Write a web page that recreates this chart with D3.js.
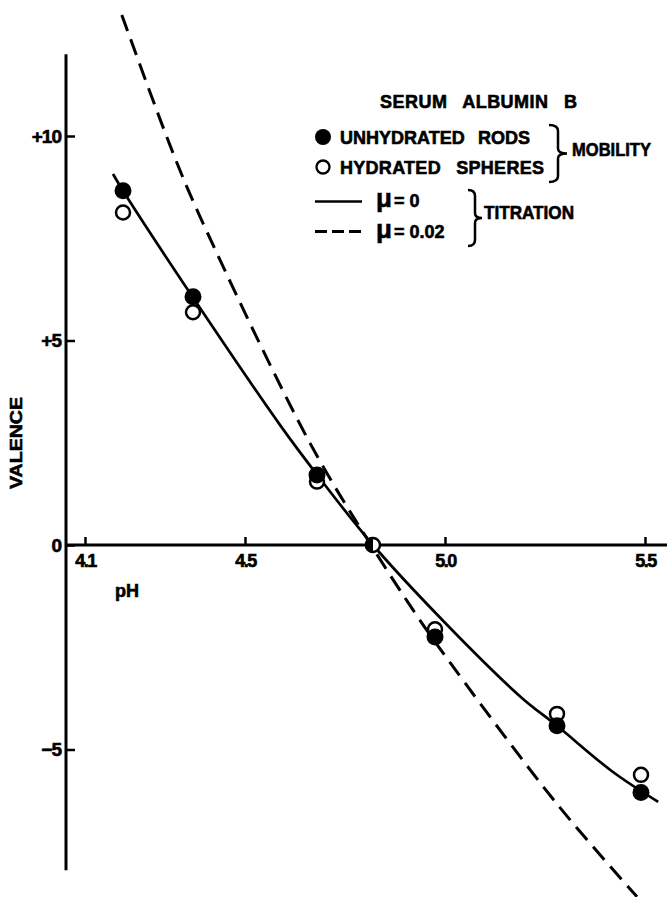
<!DOCTYPE html>
<html>
<head>
<meta charset="utf-8">
<script src="https://cdnjs.cloudflare.com/ajax/libs/d3/7.8.5/d3.min.js"></script>
<style>
  body { margin: 0; background: #fff; }
  text { font-family: "Liberation Sans", Arial, sans-serif; font-weight: bold; fill: #000; stroke: #000; stroke-width: 0.6px; }
</style>
</head>
<body>
<div id="chart"></div>
<script>
// pH at which the mobilities were measured
var pH = [4.195, 4.37, 4.68, 4.82, 4.975, 5.28, 5.49];
// valence from mobility
var unhydratedRods = [8.66, 6.07, 1.71, 0, -2.25, -4.42, -6.05];
var hydratedSpheres = [8.13, 5.69, 1.55, 0, -2.06, -4.13, -5.62];

// titration curves
var titrationPH0 = [4.17, 4.195, 4.37, 4.59, 4.68, 4.82, 5.0, 5.19, 5.28, 5.42, 5.533];
var titrationVal0 = [9.07, 8.66, 6.05, 2.9, 1.72, 0, -1.9, -3.72, -4.42, -5.55, -6.28];
var titrationPH002 = [4.192, 4.317, 4.3875, 4.6625, 4.815, 4.925, 4.99, 5.279, 5.48];
var titrationVal002 = [12.96, 9.66, 8.03, 2.49, 0, -1.66, -2.57, -6.32, -8.6];

var xTicks = [4.1, 4.5, 5.0, 5.5];
var yTicks = [10, 5, 0, -5];
var yTickLabels = ["+10", "+5", "0", "\u22125"];

var width = 667, height = 897;

var x = d3.scaleLinear().domain([4.1, 5.5]).range([85, 645]);
var y = d3.scaleLinear().domain([-5, 10]).range([749.5, 136]);

var svg = d3.select("#chart")
  .append("svg")
  .attr("width", width)
  .attr("height", height)
  .style("background", "#fff");

// axis lines (drawn by hand, they run past the tick range)
svg.append("line")
  .attr("x1", x(4.0525)).attr("x2", x(4.0525))
  .attr("y1", y(12)).attr("y2", y(-7.95))
  .attr("stroke", "#000").attr("stroke-width", 3);

svg.append("line")
  .attr("x1", x(4.0525)).attr("x2", width)
  .attr("y1", y(0)).attr("y2", y(0))
  .attr("stroke", "#000").attr("stroke-width", 3);

// x ticks point up, labels below
var xAxis = d3.axisBottom(x)
  .tickValues(xTicks)
  .tickSize(-8)
  .tickPadding(9)
  .tickFormat(d3.format(".1f"));

var gx = svg.append("g")
  .attr("transform", "translate(0," + y(0) + ")")
  .call(xAxis);
gx.select(".domain").remove();
gx.selectAll(".tick line").attr("stroke", "#000").attr("stroke-width", 2.5);
gx.selectAll(".tick text")
  .attr("font-family", "Liberation Sans, Arial, sans-serif")
  .attr("font-weight", "bold")
  .attr("font-size", 18)
  .attr("letter-spacing", -1.5)
  .attr("fill", "#000");

// y ticks point right, labels on the left
var yAxis = d3.axisLeft(y)
  .tickValues(yTicks)
  .tickSize(-9)
  .tickPadding(5)
  .tickFormat(function (d, i) { return yTickLabels[i]; });

var gy = svg.append("g")
  .attr("transform", "translate(" + x(4.0525) + ",0)")
  .call(yAxis);
gy.select(".domain").remove();
gy.selectAll(".tick line").attr("stroke", "#000").attr("stroke-width", 2.5);
gy.selectAll(".tick text")
  .attr("font-family", "Liberation Sans, Arial, sans-serif")
  .attr("font-weight", "bold")
  .attr("font-size", 19)
  .attr("letter-spacing", -1)
  .attr("fill", "#000");

// axis titles
svg.append("text")
  .attr("x", 127).attr("y", 597)
  .attr("text-anchor", "middle")
  .attr("font-size", 18)
  .text("pH");

svg.append("text")
  .attr("transform", "translate(22,443) rotate(-90)")
  .attr("text-anchor", "middle")
  .attr("font-size", 17)
  .attr("textLength", 92).attr("lengthAdjust", "spacingAndGlyphs")
  .text("VALENCE");

// titration curves
var line = d3.line()
  .x(function (d) { return x(d[0]); })
  .y(function (d) { return y(d[1]); })
  .curve(d3.curveCatmullRom.alpha(0.5));

var solidData = titrationPH0.map(function (p, i) { return [p, titrationVal0[i]]; });
var dashData = titrationPH002.map(function (p, i) { return [p, titrationVal002[i]]; });

svg.append("path")
  .datum(dashData)
  .attr("d", line)
  .attr("fill", "none")
  .attr("stroke", "#000")
  .attr("stroke-width", 3)
  .attr("stroke-dasharray", "17,9");

svg.append("path")
  .datum(solidData)
  .attr("d", line)
  .attr("fill", "none")
  .attr("stroke", "#000")
  .attr("stroke-width", 2.7);

// mobility points: open first, filled on top
var openPts = pH.map(function (p, i) { return [p, hydratedSpheres[i]]; });
var filledPts = pH.map(function (p, i) { return [p, unhydratedRods[i], hydratedSpheres[i]]; });

svg.selectAll(".open")
  .data(openPts)
  .enter().append("circle")
  .attr("class", "open")
  .attr("cx", function (d) { return x(d[0]); })
  .attr("cy", function (d) { return y(d[1]); })
  .attr("r", 7)
  .attr("fill", "#fff")
  .attr("stroke", "#000")
  .attr("stroke-width", 2.5);

var halfDisc = d3.arc().innerRadius(0).outerRadius(8.3).startAngle(Math.PI).endAngle(2 * Math.PI);

svg.selectAll(".filled")
  .data(filledPts)
  .enter().append("path")
  .attr("class", "filled")
  .attr("transform", function (d) { return "translate(" + x(d[0]) + "," + y(d[1]) + ")"; })
  .attr("d", function (d) {
    // where both points coincide only the left half is filled
    if (d[1] === d[2]) return halfDisc();
    return d3.arc().innerRadius(0).outerRadius(8.5).startAngle(0).endAngle(2 * Math.PI)();
  })
  .attr("fill", "#000");

// legend
var legend = svg.append("g");

legend.append("text").attr("x", 380).attr("y", 108)
  .attr("font-size", 18).attr("word-spacing", 10)
  .attr("textLength", 197).attr("lengthAdjust", "spacing")
  .text("SERUM ALBUMIN B");

legend.append("circle").attr("cx", 323).attr("cy", 137).attr("r", 8).attr("fill", "#000");
legend.append("text").attr("x", 340).attr("y", 143.5)
  .attr("font-size", 18).attr("word-spacing", 8)
  .attr("textLength", 190).attr("lengthAdjust", "spacing")
  .text("UNHYDRATED RODS");

legend.append("circle").attr("cx", 323).attr("cy", 167).attr("r", 6.5)
  .attr("fill", "#fff").attr("stroke", "#000").attr("stroke-width", 2.3);
legend.append("text").attr("x", 340).attr("y", 173.5)
  .attr("font-size", 18).attr("word-spacing", 10)
  .attr("textLength", 204).attr("lengthAdjust", "spacing")
  .text("HYDRATED SPHERES");

legend.append("line").attr("x1", 315).attr("x2", 362).attr("y1", 201.5).attr("y2", 201.5)
  .attr("stroke", "#000").attr("stroke-width", 2.7);
legend.append("line").attr("x1", 315).attr("x2", 362).attr("y1", 231.5).attr("y2", 231.5)
  .attr("stroke", "#000").attr("stroke-width", 3).attr("stroke-dasharray", "12,5");

var mu0 = legend.append("text").attr("x", 376).attr("y", 207);
mu0.append("tspan").attr("font-size", 26).text("\u03bc");
mu0.append("tspan").attr("font-size", 18).attr("dx", 2).text("= 0");

var mu2 = legend.append("text").attr("x", 376).attr("y", 238);
mu2.append("tspan").attr("font-size", 26).text("\u03bc");
mu2.append("tspan").attr("font-size", 18).attr("dx", 2).text("= 0.02");

// curly braces
function brace(x0, yTop, yBot, depth) {
  var mid = (yTop + yBot) / 2;
  var h = depth / 2;
  return "M" + x0 + "," + yTop +
    " Q" + (x0 + h) + "," + yTop + " " + (x0 + h) + "," + (yTop + 6) +
    " L" + (x0 + h) + "," + (mid - 5) +
    " Q" + (x0 + h) + "," + mid + " " + (x0 + depth) + "," + mid +
    " Q" + (x0 + h) + "," + mid + " " + (x0 + h) + "," + (mid + 5) +
    " L" + (x0 + h) + "," + (yBot - 6) +
    " Q" + (x0 + h) + "," + yBot + " " + x0 + "," + yBot;
}

legend.append("path").attr("d", brace(549, 125, 182, 18))
  .attr("fill", "none").attr("stroke", "#000").attr("stroke-width", 2.5);
legend.append("path").attr("d", brace(468, 190, 246, 14))
  .attr("fill", "none").attr("stroke", "#000").attr("stroke-width", 2.5);

legend.append("text").attr("x", 572).attr("y", 156)
  .attr("font-size", 18).attr("textLength", 79).attr("lengthAdjust", "spacingAndGlyphs")
  .text("MOBILITY");
legend.append("text").attr("x", 484).attr("y", 219)
  .attr("font-size", 18).attr("textLength", 90).attr("lengthAdjust", "spacingAndGlyphs")
  .text("TITRATION");
</script>
</body>
</html>
